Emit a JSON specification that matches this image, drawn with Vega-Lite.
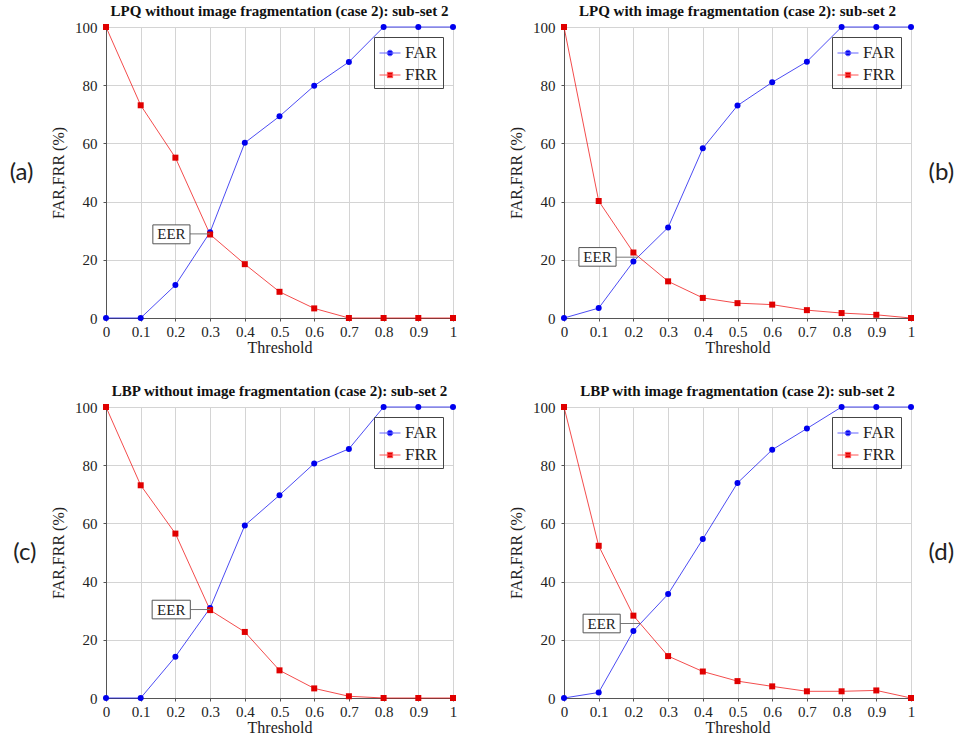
{
  "$schema": "https://vega.github.io/schema/vega-lite/v6.json",
  "padding": {"left": 9, "top": 4, "right": 0, "bottom": 0},
  "background": "white",
  "config": {
    "view": {"stroke": null},
    "axis": {"labelFont": "Liberation Serif", "labelFontSize": 15, "labelColor": "#222", "titleFont": "Liberation Serif", "titleFontSize": 16, "titleFontWeight": "normal", "titleColor": "#222", "gridColor": "#d4d4d4", "domainColor": "#555", "tickColor": "#555", "labelOverlap": false},
    "title": {"font": "Liberation Serif", "fontSize": 15, "fontWeight": "bold", "color": "#111", "offset": 1, "anchor": "middle"},
    "legend": {"labelFont": "Liberation Serif", "labelFontSize": 17, "labelColor": "#222"}
  },
  "datasets": {
    "a": [
      {"t": 0, "v": 0, "s": "FAR"}, {"t": 0.1, "v": 0, "s": "FAR"}, {"t": 0.2, "v": 11.3, "s": "FAR"}, {"t": 0.3, "v": 29.5, "s": "FAR"}, {"t": 0.4, "v": 60.2, "s": "FAR"}, {"t": 0.5, "v": 69.3, "s": "FAR"}, {"t": 0.6, "v": 79.8, "s": "FAR"}, {"t": 0.7, "v": 88.0, "s": "FAR"}, {"t": 0.8, "v": 100, "s": "FAR"}, {"t": 0.9, "v": 100, "s": "FAR"}, {"t": 1, "v": 100, "s": "FAR"},
      {"t": 0, "v": 100, "s": "FRR"}, {"t": 0.1, "v": 73.1, "s": "FRR"}, {"t": 0.2, "v": 55.1, "s": "FRR"}, {"t": 0.3, "v": 28.7, "s": "FRR"}, {"t": 0.4, "v": 18.5, "s": "FRR"}, {"t": 0.5, "v": 9.0, "s": "FRR"}, {"t": 0.6, "v": 3.3, "s": "FRR"}, {"t": 0.7, "v": 0, "s": "FRR"}, {"t": 0.8, "v": 0, "s": "FRR"}, {"t": 0.9, "v": 0, "s": "FRR"}, {"t": 1, "v": 0, "s": "FRR"}
    ],
    "b": [
      {"t": 0, "v": 0, "s": "FAR"}, {"t": 0.1, "v": 3.4, "s": "FAR"}, {"t": 0.2, "v": 19.4, "s": "FAR"}, {"t": 0.3, "v": 31.1, "s": "FAR"}, {"t": 0.4, "v": 58.3, "s": "FAR"}, {"t": 0.5, "v": 73.0, "s": "FAR"}, {"t": 0.6, "v": 81.0, "s": "FAR"}, {"t": 0.7, "v": 88.1, "s": "FAR"}, {"t": 0.8, "v": 100, "s": "FAR"}, {"t": 0.9, "v": 100, "s": "FAR"}, {"t": 1, "v": 100, "s": "FAR"},
      {"t": 0, "v": 100, "s": "FRR"}, {"t": 0.1, "v": 40.2, "s": "FRR"}, {"t": 0.2, "v": 22.5, "s": "FRR"}, {"t": 0.3, "v": 12.6, "s": "FRR"}, {"t": 0.4, "v": 6.9, "s": "FRR"}, {"t": 0.5, "v": 5.1, "s": "FRR"}, {"t": 0.6, "v": 4.6, "s": "FRR"}, {"t": 0.7, "v": 2.7, "s": "FRR"}, {"t": 0.8, "v": 1.7, "s": "FRR"}, {"t": 0.9, "v": 1.1, "s": "FRR"}, {"t": 1, "v": 0, "s": "FRR"}
    ],
    "c": [
      {"t": 0, "v": 0, "s": "FAR"}, {"t": 0.1, "v": 0, "s": "FAR"}, {"t": 0.2, "v": 14.2, "s": "FAR"}, {"t": 0.3, "v": 30.9, "s": "FAR"}, {"t": 0.4, "v": 59.3, "s": "FAR"}, {"t": 0.5, "v": 69.7, "s": "FAR"}, {"t": 0.6, "v": 80.6, "s": "FAR"}, {"t": 0.7, "v": 85.6, "s": "FAR"}, {"t": 0.8, "v": 100, "s": "FAR"}, {"t": 0.9, "v": 100, "s": "FAR"}, {"t": 1, "v": 100, "s": "FAR"},
      {"t": 0, "v": 100, "s": "FRR"}, {"t": 0.1, "v": 73.1, "s": "FRR"}, {"t": 0.2, "v": 56.5, "s": "FRR"}, {"t": 0.3, "v": 30.2, "s": "FRR"}, {"t": 0.4, "v": 22.7, "s": "FRR"}, {"t": 0.5, "v": 9.5, "s": "FRR"}, {"t": 0.6, "v": 3.3, "s": "FRR"}, {"t": 0.7, "v": 0.6, "s": "FRR"}, {"t": 0.8, "v": 0, "s": "FRR"}, {"t": 0.9, "v": 0, "s": "FRR"}, {"t": 1, "v": 0, "s": "FRR"}
    ],
    "d": [
      {"t": 0, "v": 0, "s": "FAR"}, {"t": 0.1, "v": 1.9, "s": "FAR"}, {"t": 0.2, "v": 23.0, "s": "FAR"}, {"t": 0.3, "v": 35.7, "s": "FAR"}, {"t": 0.4, "v": 54.6, "s": "FAR"}, {"t": 0.5, "v": 73.9, "s": "FAR"}, {"t": 0.6, "v": 85.3, "s": "FAR"}, {"t": 0.7, "v": 92.6, "s": "FAR"}, {"t": 0.8, "v": 100, "s": "FAR"}, {"t": 0.9, "v": 100, "s": "FAR"}, {"t": 1, "v": 100, "s": "FAR"},
      {"t": 0, "v": 100, "s": "FRR"}, {"t": 0.1, "v": 52.3, "s": "FRR"}, {"t": 0.2, "v": 28.3, "s": "FRR"}, {"t": 0.3, "v": 14.4, "s": "FRR"}, {"t": 0.4, "v": 9.1, "s": "FRR"}, {"t": 0.5, "v": 5.8, "s": "FRR"}, {"t": 0.6, "v": 4.0, "s": "FRR"}, {"t": 0.7, "v": 2.3, "s": "FRR"}, {"t": 0.8, "v": 2.3, "s": "FRR"}, {"t": 0.9, "v": 2.6, "s": "FRR"}, {"t": 1, "v": 0, "s": "FRR"}
    ],
    "eer_a": [{"x1": 0.135, "x2": 0.242, "y1": 25.5, "y2": 32.0, "xm": 0.1885, "ym": 28.9, "xe": 0.3, "label": "EER"}],
    "eer_b": [{"x1": 0.043, "x2": 0.150, "y1": 17.8, "y2": 24.2, "xm": 0.0965, "ym": 20.9, "xe": 0.213, "label": "EER"}],
    "eer_c": [{"x1": 0.133, "x2": 0.243, "y1": 27.2, "y2": 33.6, "xm": 0.188, "ym": 30.4, "xe": 0.3, "label": "EER"}],
    "eer_d": [{"x1": 0.055, "x2": 0.162, "y1": 22.4, "y2": 28.8, "xm": 0.1085, "ym": 25.6, "xe": 0.22, "label": "EER"}]
  },
  "columns": 2,
  "spacing": {"row": 89, "column": 111},
  "bounds": "flush",
  "resolve": {"scale": {"color": "independent", "shape": "independent", "stroke": "independent"}, "legend": {"color": "independent", "shape": "independent", "stroke": "independent"}},
  "concat": [
    {
      "title": {"text": "LPQ without image fragmentation (case 2): sub-set 2"},
      "width": 347, "height": 291,
      "resolve": {"scale": {"y": "independent"}},
      "layer": [
        {
          "data": {"name": "a"},
          "layer": [
            {"transform": [{"filter": "datum.s === 'FAR'"}],
             "mark": {"type": "line", "strokeWidth": 1, "color": "#0000ee", "opacity": 0.7},
             "encoding": {
               "x": {"field": "t", "type": "quantitative", "scale": {"domain": [0, 1], "nice": false}, "axis": {"title": "Threshold", "values": [0,0.1,0.2,0.3,0.4,0.5,0.6,0.7,0.8,0.9,1], "format": ".1~f", "labelPadding": 3, "tickSize": 3, "titlePadding": 0, "labelFlush": false, "labelOverlap": false, "labelFont": "Liberation Serif", "labelFontSize": 15, "titleFont": "Liberation Serif", "titleFontSize": 16}},
               "y": {"field": "v", "type": "quantitative", "scale": {"domain": [0, 100], "nice": false}, "axis": {"title": "FAR,FRR (%)", "values": [0,20,40,60,80,100], "tickSize": 3, "labelPadding": 6, "titlePadding": 8, "labelFont": "Liberation Serif", "labelFontSize": 15, "titleFont": "Liberation Serif", "titleFontSize": 16}}
             }},
            {"transform": [{"filter": "datum.s === 'FRR'"}],
             "mark": {"type": "line", "strokeWidth": 1, "color": "#ee0000", "opacity": 0.7},
             "encoding": {
               "x": {"field": "t", "type": "quantitative", "axis": {"title": "Threshold", "values": [0,0.1,0.2,0.3,0.4,0.5,0.6,0.7,0.8,0.9,1], "format": ".1~f", "labelPadding": 3, "tickSize": 3, "titlePadding": 0, "labelFlush": false, "labelOverlap": false, "labelFont": "Liberation Serif", "labelFontSize": 15, "titleFont": "Liberation Serif", "titleFontSize": 16}},
               "y": {"field": "v", "type": "quantitative", "axis": {"title": "FAR,FRR (%)", "values": [0,20,40,60,80,100], "tickSize": 3, "labelPadding": 6, "titlePadding": 8, "labelFont": "Liberation Serif", "labelFontSize": 15, "titleFont": "Liberation Serif", "titleFontSize": 16}}}},
            {"transform": [{"filter": "datum.s === 'FAR'"}],
             "mark": {"type": "point", "filled": true, "opacity": 1, "shape": "circle", "size": 36, "color": "#0000ee"},
             "encoding": {
               "x": {"field": "t", "type": "quantitative", "axis": {"title": "Threshold", "values": [0,0.1,0.2,0.3,0.4,0.5,0.6,0.7,0.8,0.9,1], "format": ".1~f", "labelPadding": 3, "tickSize": 3, "titlePadding": 0, "labelFlush": false, "labelOverlap": false, "labelFont": "Liberation Serif", "labelFontSize": 15, "titleFont": "Liberation Serif", "titleFontSize": 16}},
               "y": {"field": "v", "type": "quantitative", "axis": {"title": "FAR,FRR (%)", "values": [0,20,40,60,80,100], "tickSize": 3, "labelPadding": 6, "titlePadding": 8, "labelFont": "Liberation Serif", "labelFontSize": 15, "titleFont": "Liberation Serif", "titleFontSize": 16}}}},
            {"transform": [{"filter": "datum.s === 'FRR'"}],
             "mark": {"type": "point", "filled": true, "opacity": 1, "shape": "square", "size": 36, "color": "#e00000"},
             "encoding": {
               "x": {"field": "t", "type": "quantitative", "axis": {"title": "Threshold", "values": [0,0.1,0.2,0.3,0.4,0.5,0.6,0.7,0.8,0.9,1], "format": ".1~f", "labelPadding": 3, "tickSize": 3, "titlePadding": 0, "labelFlush": false, "labelOverlap": false, "labelFont": "Liberation Serif", "labelFontSize": 15, "titleFont": "Liberation Serif", "titleFontSize": 16}},
               "y": {"field": "v", "type": "quantitative", "axis": {"title": "FAR,FRR (%)", "values": [0,20,40,60,80,100], "tickSize": 3, "labelPadding": 6, "titlePadding": 8, "labelFont": "Liberation Serif", "labelFontSize": 15, "titleFont": "Liberation Serif", "titleFontSize": 16}}}},
            {"transform": [{"filter": "datum.t > 5"}],
             "mark": {"type": "point", "filled": true, "opacity": 1, "strokeWidth": 1},
             "encoding": {
               "x": {"field": "t", "type": "quantitative", "axis": {"title": "Threshold", "values": [0,0.1,0.2,0.3,0.4,0.5,0.6,0.7,0.8,0.9,1], "format": ".1~f", "labelPadding": 3, "tickSize": 3, "titlePadding": 0, "labelFlush": false, "labelOverlap": false, "labelFont": "Liberation Serif", "labelFontSize": 15, "titleFont": "Liberation Serif", "titleFontSize": 16}},
               "y": {"field": "v", "type": "quantitative", "axis": {"title": "FAR,FRR (%)", "values": [0,20,40,60,80,100], "tickSize": 3, "labelPadding": 6, "titlePadding": 8, "labelFont": "Liberation Serif", "labelFontSize": 15, "titleFont": "Liberation Serif", "titleFontSize": 16}},
               "color": {"field": "s", "type": "nominal", "scale": {"domain": ["FAR", "FRR"], "range": ["#0000ee", "#e00000"]}, "legend": {"title": null, "orient": "top-right", "offset": 10, "strokeColor": "#444", "padding": 5, "rowPadding": 3, "symbolSize": 441, "labelOffset": 4, "symbolOpacity": 1, "symbolStrokeWidth": 1}},
               "shape": {"field": "s", "type": "nominal", "scale": {"domain": ["FAR", "FRR"], "range": ["M-1,0L1,0M-0.27,0A0.27,0.27,0,1,0,0.27,0A0.27,0.27,0,1,0,-0.27,0Z", "M-1,0L1,0M-0.25,-0.25H0.25V0.25H-0.25Z"]}, "legend": {"title": null}},
               "stroke": {"field": "s", "type": "nominal", "scale": {"domain": ["FAR", "FRR"], "range": ["#6666ff", "#ff5555"]}, "legend": {"title": null}}}}
          ]
        },
        {
          "data": {"name": "eer_a"},
          "layer": [
            {"mark": {"type": "rule", "color": "#777", "strokeWidth": 1},
             "encoding": {"x": {"field": "x2", "type": "quantitative", "axis": {"title": "Threshold", "values": [0,0.1,0.2,0.3,0.4,0.5,0.6,0.7,0.8,0.9,1], "format": ".1~f", "labelPadding": 3, "tickSize": 3, "titlePadding": 0, "labelFlush": false, "labelOverlap": false, "labelFont": "Liberation Serif", "labelFontSize": 15, "titleFont": "Liberation Serif", "titleFontSize": 16}}, "x2": {"field": "xe"}, "y": {"field": "ym", "type": "quantitative", "scale": {"domain": [0, 100], "nice": false},
               "axis": {"title": "(a)", "orient": "left", "labels": false, "ticks": false, "domain": false, "grid": false, "titleAngle": 0, "titleAlign": "right", "titleBaseline": "middle", "titleFont": "Lato", "titleFontSize": 24, "titlePadding": 73}}}},
            {"mark": {"type": "rect", "fill": "white", "stroke": "#555", "strokeWidth": 1},
             "encoding": {"x": {"field": "x1", "type": "quantitative", "axis": {"title": "Threshold", "values": [0,0.1,0.2,0.3,0.4,0.5,0.6,0.7,0.8,0.9,1], "format": ".1~f", "labelPadding": 3, "tickSize": 3, "titlePadding": 0, "labelFlush": false, "labelOverlap": false, "labelFont": "Liberation Serif", "labelFontSize": 15, "titleFont": "Liberation Serif", "titleFontSize": 16}}, "x2": {"field": "x2"}, "y": {"field": "y1", "type": "quantitative"}, "y2": {"field": "y2"}}},
            {"mark": {"type": "text", "font": "Liberation Serif", "fontSize": 15, "color": "#222"},
             "encoding": {"x": {"field": "xm", "type": "quantitative", "axis": {"title": "Threshold", "values": [0,0.1,0.2,0.3,0.4,0.5,0.6,0.7,0.8,0.9,1], "format": ".1~f", "labelPadding": 3, "tickSize": 3, "titlePadding": 0, "labelFlush": false, "labelOverlap": false, "labelFont": "Liberation Serif", "labelFontSize": 15, "titleFont": "Liberation Serif", "titleFontSize": 16}}, "y": {"field": "ym", "type": "quantitative"}, "text": {"field": "label"}}}
          ]
        }
      ]
    },
    {
      "title": {"text": "LPQ with image fragmentation (case 2): sub-set 2"},
      "width": 347, "height": 291,
      "resolve": {"scale": {"y": "independent"}},
      "layer": [
        {
          "data": {"name": "b"},
          "layer": [
            {"transform": [{"filter": "datum.s === 'FAR'"}],
             "mark": {"type": "line", "strokeWidth": 1, "color": "#0000ee", "opacity": 0.7},
             "encoding": {
               "x": {"field": "t", "type": "quantitative", "scale": {"domain": [0, 1], "nice": false}, "axis": {"title": "Threshold", "values": [0,0.1,0.2,0.3,0.4,0.5,0.6,0.7,0.8,0.9,1], "format": ".1~f", "labelPadding": 3, "tickSize": 3, "titlePadding": 0, "labelFlush": false, "labelOverlap": false, "labelFont": "Liberation Serif", "labelFontSize": 15, "titleFont": "Liberation Serif", "titleFontSize": 16}},
               "y": {"field": "v", "type": "quantitative", "scale": {"domain": [0, 100], "nice": false}, "axis": {"title": "FAR,FRR (%)", "values": [0,20,40,60,80,100], "tickSize": 3, "labelPadding": 6, "titlePadding": 8, "labelFont": "Liberation Serif", "labelFontSize": 15, "titleFont": "Liberation Serif", "titleFontSize": 16}}
             }},
            {"transform": [{"filter": "datum.s === 'FRR'"}],
             "mark": {"type": "line", "strokeWidth": 1, "color": "#ee0000", "opacity": 0.7},
             "encoding": {
               "x": {"field": "t", "type": "quantitative", "axis": {"title": "Threshold", "values": [0,0.1,0.2,0.3,0.4,0.5,0.6,0.7,0.8,0.9,1], "format": ".1~f", "labelPadding": 3, "tickSize": 3, "titlePadding": 0, "labelFlush": false, "labelOverlap": false, "labelFont": "Liberation Serif", "labelFontSize": 15, "titleFont": "Liberation Serif", "titleFontSize": 16}},
               "y": {"field": "v", "type": "quantitative", "axis": {"title": "FAR,FRR (%)", "values": [0,20,40,60,80,100], "tickSize": 3, "labelPadding": 6, "titlePadding": 8, "labelFont": "Liberation Serif", "labelFontSize": 15, "titleFont": "Liberation Serif", "titleFontSize": 16}}}},
            {"transform": [{"filter": "datum.s === 'FAR'"}],
             "mark": {"type": "point", "filled": true, "opacity": 1, "shape": "circle", "size": 36, "color": "#0000ee"},
             "encoding": {
               "x": {"field": "t", "type": "quantitative", "axis": {"title": "Threshold", "values": [0,0.1,0.2,0.3,0.4,0.5,0.6,0.7,0.8,0.9,1], "format": ".1~f", "labelPadding": 3, "tickSize": 3, "titlePadding": 0, "labelFlush": false, "labelOverlap": false, "labelFont": "Liberation Serif", "labelFontSize": 15, "titleFont": "Liberation Serif", "titleFontSize": 16}},
               "y": {"field": "v", "type": "quantitative", "axis": {"title": "FAR,FRR (%)", "values": [0,20,40,60,80,100], "tickSize": 3, "labelPadding": 6, "titlePadding": 8, "labelFont": "Liberation Serif", "labelFontSize": 15, "titleFont": "Liberation Serif", "titleFontSize": 16}}}},
            {"transform": [{"filter": "datum.s === 'FRR'"}],
             "mark": {"type": "point", "filled": true, "opacity": 1, "shape": "square", "size": 36, "color": "#e00000"},
             "encoding": {
               "x": {"field": "t", "type": "quantitative", "axis": {"title": "Threshold", "values": [0,0.1,0.2,0.3,0.4,0.5,0.6,0.7,0.8,0.9,1], "format": ".1~f", "labelPadding": 3, "tickSize": 3, "titlePadding": 0, "labelFlush": false, "labelOverlap": false, "labelFont": "Liberation Serif", "labelFontSize": 15, "titleFont": "Liberation Serif", "titleFontSize": 16}},
               "y": {"field": "v", "type": "quantitative", "axis": {"title": "FAR,FRR (%)", "values": [0,20,40,60,80,100], "tickSize": 3, "labelPadding": 6, "titlePadding": 8, "labelFont": "Liberation Serif", "labelFontSize": 15, "titleFont": "Liberation Serif", "titleFontSize": 16}}}},
            {"transform": [{"filter": "datum.t > 5"}],
             "mark": {"type": "point", "filled": true, "opacity": 1, "strokeWidth": 1},
             "encoding": {
               "x": {"field": "t", "type": "quantitative", "axis": {"title": "Threshold", "values": [0,0.1,0.2,0.3,0.4,0.5,0.6,0.7,0.8,0.9,1], "format": ".1~f", "labelPadding": 3, "tickSize": 3, "titlePadding": 0, "labelFlush": false, "labelOverlap": false, "labelFont": "Liberation Serif", "labelFontSize": 15, "titleFont": "Liberation Serif", "titleFontSize": 16}},
               "y": {"field": "v", "type": "quantitative", "axis": {"title": "FAR,FRR (%)", "values": [0,20,40,60,80,100], "tickSize": 3, "labelPadding": 6, "titlePadding": 8, "labelFont": "Liberation Serif", "labelFontSize": 15, "titleFont": "Liberation Serif", "titleFontSize": 16}},
               "color": {"field": "s", "type": "nominal", "scale": {"domain": ["FAR", "FRR"], "range": ["#0000ee", "#e00000"]}, "legend": {"title": null, "orient": "top-right", "offset": 10, "strokeColor": "#444", "padding": 5, "rowPadding": 3, "symbolSize": 441, "labelOffset": 4, "symbolOpacity": 1, "symbolStrokeWidth": 1}},
               "shape": {"field": "s", "type": "nominal", "scale": {"domain": ["FAR", "FRR"], "range": ["M-1,0L1,0M-0.27,0A0.27,0.27,0,1,0,0.27,0A0.27,0.27,0,1,0,-0.27,0Z", "M-1,0L1,0M-0.25,-0.25H0.25V0.25H-0.25Z"]}, "legend": {"title": null}},
               "stroke": {"field": "s", "type": "nominal", "scale": {"domain": ["FAR", "FRR"], "range": ["#6666ff", "#ff5555"]}, "legend": {"title": null}}}}
          ]
        },
        {
          "data": {"name": "eer_b"},
          "layer": [
            {"mark": {"type": "rule", "color": "#777", "strokeWidth": 1},
             "encoding": {"x": {"field": "x2", "type": "quantitative", "axis": {"title": "Threshold", "values": [0,0.1,0.2,0.3,0.4,0.5,0.6,0.7,0.8,0.9,1], "format": ".1~f", "labelPadding": 3, "tickSize": 3, "titlePadding": 0, "labelFlush": false, "labelOverlap": false, "labelFont": "Liberation Serif", "labelFontSize": 15, "titleFont": "Liberation Serif", "titleFontSize": 16}}, "x2": {"field": "xe"}, "y": {"field": "ym", "type": "quantitative", "scale": {"domain": [0, 100], "nice": false},
               "axis": {"title": "(b)", "orient": "right", "labels": false, "ticks": false, "domain": false, "grid": false, "titleAngle": 0, "titleAlign": "left", "titleBaseline": "middle", "titleFont": "Lato", "titleFontSize": 24, "titlePadding": 17}}}},
            {"mark": {"type": "rect", "fill": "white", "stroke": "#555", "strokeWidth": 1},
             "encoding": {"x": {"field": "x1", "type": "quantitative", "axis": {"title": "Threshold", "values": [0,0.1,0.2,0.3,0.4,0.5,0.6,0.7,0.8,0.9,1], "format": ".1~f", "labelPadding": 3, "tickSize": 3, "titlePadding": 0, "labelFlush": false, "labelOverlap": false, "labelFont": "Liberation Serif", "labelFontSize": 15, "titleFont": "Liberation Serif", "titleFontSize": 16}}, "x2": {"field": "x2"}, "y": {"field": "y1", "type": "quantitative"}, "y2": {"field": "y2"}}},
            {"mark": {"type": "text", "font": "Liberation Serif", "fontSize": 15, "color": "#222"},
             "encoding": {"x": {"field": "xm", "type": "quantitative", "axis": {"title": "Threshold", "values": [0,0.1,0.2,0.3,0.4,0.5,0.6,0.7,0.8,0.9,1], "format": ".1~f", "labelPadding": 3, "tickSize": 3, "titlePadding": 0, "labelFlush": false, "labelOverlap": false, "labelFont": "Liberation Serif", "labelFontSize": 15, "titleFont": "Liberation Serif", "titleFontSize": 16}}, "y": {"field": "ym", "type": "quantitative"}, "text": {"field": "label"}}}
          ]
        }
      ]
    },
    {
      "title": {"text": "LBP without image fragmentation (case 2): sub-set 2"},
      "width": 347, "height": 291,
      "resolve": {"scale": {"y": "independent"}},
      "layer": [
        {
          "data": {"name": "c"},
          "layer": [
            {"transform": [{"filter": "datum.s === 'FAR'"}],
             "mark": {"type": "line", "strokeWidth": 1, "color": "#0000ee", "opacity": 0.7},
             "encoding": {
               "x": {"field": "t", "type": "quantitative", "scale": {"domain": [0, 1], "nice": false}, "axis": {"title": "Threshold", "values": [0,0.1,0.2,0.3,0.4,0.5,0.6,0.7,0.8,0.9,1], "format": ".1~f", "labelPadding": 3, "tickSize": 3, "titlePadding": 0, "labelFlush": false, "labelOverlap": false, "labelFont": "Liberation Serif", "labelFontSize": 15, "titleFont": "Liberation Serif", "titleFontSize": 16}},
               "y": {"field": "v", "type": "quantitative", "scale": {"domain": [0, 100], "nice": false}, "axis": {"title": "FAR,FRR (%)", "values": [0,20,40,60,80,100], "tickSize": 3, "labelPadding": 6, "titlePadding": 8, "labelFont": "Liberation Serif", "labelFontSize": 15, "titleFont": "Liberation Serif", "titleFontSize": 16}}
             }},
            {"transform": [{"filter": "datum.s === 'FRR'"}],
             "mark": {"type": "line", "strokeWidth": 1, "color": "#ee0000", "opacity": 0.7},
             "encoding": {
               "x": {"field": "t", "type": "quantitative", "axis": {"title": "Threshold", "values": [0,0.1,0.2,0.3,0.4,0.5,0.6,0.7,0.8,0.9,1], "format": ".1~f", "labelPadding": 3, "tickSize": 3, "titlePadding": 0, "labelFlush": false, "labelOverlap": false, "labelFont": "Liberation Serif", "labelFontSize": 15, "titleFont": "Liberation Serif", "titleFontSize": 16}},
               "y": {"field": "v", "type": "quantitative", "axis": {"title": "FAR,FRR (%)", "values": [0,20,40,60,80,100], "tickSize": 3, "labelPadding": 6, "titlePadding": 8, "labelFont": "Liberation Serif", "labelFontSize": 15, "titleFont": "Liberation Serif", "titleFontSize": 16}}}},
            {"transform": [{"filter": "datum.s === 'FAR'"}],
             "mark": {"type": "point", "filled": true, "opacity": 1, "shape": "circle", "size": 36, "color": "#0000ee"},
             "encoding": {
               "x": {"field": "t", "type": "quantitative", "axis": {"title": "Threshold", "values": [0,0.1,0.2,0.3,0.4,0.5,0.6,0.7,0.8,0.9,1], "format": ".1~f", "labelPadding": 3, "tickSize": 3, "titlePadding": 0, "labelFlush": false, "labelOverlap": false, "labelFont": "Liberation Serif", "labelFontSize": 15, "titleFont": "Liberation Serif", "titleFontSize": 16}},
               "y": {"field": "v", "type": "quantitative", "axis": {"title": "FAR,FRR (%)", "values": [0,20,40,60,80,100], "tickSize": 3, "labelPadding": 6, "titlePadding": 8, "labelFont": "Liberation Serif", "labelFontSize": 15, "titleFont": "Liberation Serif", "titleFontSize": 16}}}},
            {"transform": [{"filter": "datum.s === 'FRR'"}],
             "mark": {"type": "point", "filled": true, "opacity": 1, "shape": "square", "size": 36, "color": "#e00000"},
             "encoding": {
               "x": {"field": "t", "type": "quantitative", "axis": {"title": "Threshold", "values": [0,0.1,0.2,0.3,0.4,0.5,0.6,0.7,0.8,0.9,1], "format": ".1~f", "labelPadding": 3, "tickSize": 3, "titlePadding": 0, "labelFlush": false, "labelOverlap": false, "labelFont": "Liberation Serif", "labelFontSize": 15, "titleFont": "Liberation Serif", "titleFontSize": 16}},
               "y": {"field": "v", "type": "quantitative", "axis": {"title": "FAR,FRR (%)", "values": [0,20,40,60,80,100], "tickSize": 3, "labelPadding": 6, "titlePadding": 8, "labelFont": "Liberation Serif", "labelFontSize": 15, "titleFont": "Liberation Serif", "titleFontSize": 16}}}},
            {"transform": [{"filter": "datum.t > 5"}],
             "mark": {"type": "point", "filled": true, "opacity": 1, "strokeWidth": 1},
             "encoding": {
               "x": {"field": "t", "type": "quantitative", "axis": {"title": "Threshold", "values": [0,0.1,0.2,0.3,0.4,0.5,0.6,0.7,0.8,0.9,1], "format": ".1~f", "labelPadding": 3, "tickSize": 3, "titlePadding": 0, "labelFlush": false, "labelOverlap": false, "labelFont": "Liberation Serif", "labelFontSize": 15, "titleFont": "Liberation Serif", "titleFontSize": 16}},
               "y": {"field": "v", "type": "quantitative", "axis": {"title": "FAR,FRR (%)", "values": [0,20,40,60,80,100], "tickSize": 3, "labelPadding": 6, "titlePadding": 8, "labelFont": "Liberation Serif", "labelFontSize": 15, "titleFont": "Liberation Serif", "titleFontSize": 16}},
               "color": {"field": "s", "type": "nominal", "scale": {"domain": ["FAR", "FRR"], "range": ["#0000ee", "#e00000"]}, "legend": {"title": null, "orient": "top-right", "offset": 10, "strokeColor": "#444", "padding": 5, "rowPadding": 3, "symbolSize": 441, "labelOffset": 4, "symbolOpacity": 1, "symbolStrokeWidth": 1}},
               "shape": {"field": "s", "type": "nominal", "scale": {"domain": ["FAR", "FRR"], "range": ["M-1,0L1,0M-0.27,0A0.27,0.27,0,1,0,0.27,0A0.27,0.27,0,1,0,-0.27,0Z", "M-1,0L1,0M-0.25,-0.25H0.25V0.25H-0.25Z"]}, "legend": {"title": null}},
               "stroke": {"field": "s", "type": "nominal", "scale": {"domain": ["FAR", "FRR"], "range": ["#6666ff", "#ff5555"]}, "legend": {"title": null}}}}
          ]
        },
        {
          "data": {"name": "eer_c"},
          "layer": [
            {"mark": {"type": "rule", "color": "#777", "strokeWidth": 1},
             "encoding": {"x": {"field": "x2", "type": "quantitative", "axis": {"title": "Threshold", "values": [0,0.1,0.2,0.3,0.4,0.5,0.6,0.7,0.8,0.9,1], "format": ".1~f", "labelPadding": 3, "tickSize": 3, "titlePadding": 0, "labelFlush": false, "labelOverlap": false, "labelFont": "Liberation Serif", "labelFontSize": 15, "titleFont": "Liberation Serif", "titleFontSize": 16}}, "x2": {"field": "xe"}, "y": {"field": "ym", "type": "quantitative", "scale": {"domain": [0, 100], "nice": false},
               "axis": {"title": "(c)", "orient": "left", "labels": false, "ticks": false, "domain": false, "grid": false, "titleAngle": 0, "titleAlign": "right", "titleBaseline": "middle", "titleFont": "Lato", "titleFontSize": 24, "titlePadding": 70}}}},
            {"mark": {"type": "rect", "fill": "white", "stroke": "#555", "strokeWidth": 1},
             "encoding": {"x": {"field": "x1", "type": "quantitative", "axis": {"title": "Threshold", "values": [0,0.1,0.2,0.3,0.4,0.5,0.6,0.7,0.8,0.9,1], "format": ".1~f", "labelPadding": 3, "tickSize": 3, "titlePadding": 0, "labelFlush": false, "labelOverlap": false, "labelFont": "Liberation Serif", "labelFontSize": 15, "titleFont": "Liberation Serif", "titleFontSize": 16}}, "x2": {"field": "x2"}, "y": {"field": "y1", "type": "quantitative"}, "y2": {"field": "y2"}}},
            {"mark": {"type": "text", "font": "Liberation Serif", "fontSize": 15, "color": "#222"},
             "encoding": {"x": {"field": "xm", "type": "quantitative", "axis": {"title": "Threshold", "values": [0,0.1,0.2,0.3,0.4,0.5,0.6,0.7,0.8,0.9,1], "format": ".1~f", "labelPadding": 3, "tickSize": 3, "titlePadding": 0, "labelFlush": false, "labelOverlap": false, "labelFont": "Liberation Serif", "labelFontSize": 15, "titleFont": "Liberation Serif", "titleFontSize": 16}}, "y": {"field": "ym", "type": "quantitative"}, "text": {"field": "label"}}}
          ]
        }
      ]
    },
    {
      "title": {"text": "LBP with image fragmentation (case 2): sub-set 2"},
      "width": 347, "height": 291,
      "resolve": {"scale": {"y": "independent"}},
      "layer": [
        {
          "data": {"name": "d"},
          "layer": [
            {"transform": [{"filter": "datum.s === 'FAR'"}],
             "mark": {"type": "line", "strokeWidth": 1, "color": "#0000ee", "opacity": 0.7},
             "encoding": {
               "x": {"field": "t", "type": "quantitative", "scale": {"domain": [0, 1], "nice": false}, "axis": {"title": "Threshold", "values": [0,0.1,0.2,0.3,0.4,0.5,0.6,0.7,0.8,0.9,1], "format": ".1~f", "labelPadding": 3, "tickSize": 3, "titlePadding": 0, "labelFlush": false, "labelOverlap": false, "labelFont": "Liberation Serif", "labelFontSize": 15, "titleFont": "Liberation Serif", "titleFontSize": 16}},
               "y": {"field": "v", "type": "quantitative", "scale": {"domain": [0, 100], "nice": false}, "axis": {"title": "FAR,FRR (%)", "values": [0,20,40,60,80,100], "tickSize": 3, "labelPadding": 6, "titlePadding": 8, "labelFont": "Liberation Serif", "labelFontSize": 15, "titleFont": "Liberation Serif", "titleFontSize": 16}}
             }},
            {"transform": [{"filter": "datum.s === 'FRR'"}],
             "mark": {"type": "line", "strokeWidth": 1, "color": "#ee0000", "opacity": 0.7},
             "encoding": {
               "x": {"field": "t", "type": "quantitative", "axis": {"title": "Threshold", "values": [0,0.1,0.2,0.3,0.4,0.5,0.6,0.7,0.8,0.9,1], "format": ".1~f", "labelPadding": 3, "tickSize": 3, "titlePadding": 0, "labelFlush": false, "labelOverlap": false, "labelFont": "Liberation Serif", "labelFontSize": 15, "titleFont": "Liberation Serif", "titleFontSize": 16}},
               "y": {"field": "v", "type": "quantitative", "axis": {"title": "FAR,FRR (%)", "values": [0,20,40,60,80,100], "tickSize": 3, "labelPadding": 6, "titlePadding": 8, "labelFont": "Liberation Serif", "labelFontSize": 15, "titleFont": "Liberation Serif", "titleFontSize": 16}}}},
            {"transform": [{"filter": "datum.s === 'FAR'"}],
             "mark": {"type": "point", "filled": true, "opacity": 1, "shape": "circle", "size": 36, "color": "#0000ee"},
             "encoding": {
               "x": {"field": "t", "type": "quantitative", "axis": {"title": "Threshold", "values": [0,0.1,0.2,0.3,0.4,0.5,0.6,0.7,0.8,0.9,1], "format": ".1~f", "labelPadding": 3, "tickSize": 3, "titlePadding": 0, "labelFlush": false, "labelOverlap": false, "labelFont": "Liberation Serif", "labelFontSize": 15, "titleFont": "Liberation Serif", "titleFontSize": 16}},
               "y": {"field": "v", "type": "quantitative", "axis": {"title": "FAR,FRR (%)", "values": [0,20,40,60,80,100], "tickSize": 3, "labelPadding": 6, "titlePadding": 8, "labelFont": "Liberation Serif", "labelFontSize": 15, "titleFont": "Liberation Serif", "titleFontSize": 16}}}},
            {"transform": [{"filter": "datum.s === 'FRR'"}],
             "mark": {"type": "point", "filled": true, "opacity": 1, "shape": "square", "size": 36, "color": "#e00000"},
             "encoding": {
               "x": {"field": "t", "type": "quantitative", "axis": {"title": "Threshold", "values": [0,0.1,0.2,0.3,0.4,0.5,0.6,0.7,0.8,0.9,1], "format": ".1~f", "labelPadding": 3, "tickSize": 3, "titlePadding": 0, "labelFlush": false, "labelOverlap": false, "labelFont": "Liberation Serif", "labelFontSize": 15, "titleFont": "Liberation Serif", "titleFontSize": 16}},
               "y": {"field": "v", "type": "quantitative", "axis": {"title": "FAR,FRR (%)", "values": [0,20,40,60,80,100], "tickSize": 3, "labelPadding": 6, "titlePadding": 8, "labelFont": "Liberation Serif", "labelFontSize": 15, "titleFont": "Liberation Serif", "titleFontSize": 16}}}},
            {"transform": [{"filter": "datum.t > 5"}],
             "mark": {"type": "point", "filled": true, "opacity": 1, "strokeWidth": 1},
             "encoding": {
               "x": {"field": "t", "type": "quantitative", "axis": {"title": "Threshold", "values": [0,0.1,0.2,0.3,0.4,0.5,0.6,0.7,0.8,0.9,1], "format": ".1~f", "labelPadding": 3, "tickSize": 3, "titlePadding": 0, "labelFlush": false, "labelOverlap": false, "labelFont": "Liberation Serif", "labelFontSize": 15, "titleFont": "Liberation Serif", "titleFontSize": 16}},
               "y": {"field": "v", "type": "quantitative", "axis": {"title": "FAR,FRR (%)", "values": [0,20,40,60,80,100], "tickSize": 3, "labelPadding": 6, "titlePadding": 8, "labelFont": "Liberation Serif", "labelFontSize": 15, "titleFont": "Liberation Serif", "titleFontSize": 16}},
               "color": {"field": "s", "type": "nominal", "scale": {"domain": ["FAR", "FRR"], "range": ["#0000ee", "#e00000"]}, "legend": {"title": null, "orient": "top-right", "offset": 10, "strokeColor": "#444", "padding": 5, "rowPadding": 3, "symbolSize": 441, "labelOffset": 4, "symbolOpacity": 1, "symbolStrokeWidth": 1}},
               "shape": {"field": "s", "type": "nominal", "scale": {"domain": ["FAR", "FRR"], "range": ["M-1,0L1,0M-0.27,0A0.27,0.27,0,1,0,0.27,0A0.27,0.27,0,1,0,-0.27,0Z", "M-1,0L1,0M-0.25,-0.25H0.25V0.25H-0.25Z"]}, "legend": {"title": null}},
               "stroke": {"field": "s", "type": "nominal", "scale": {"domain": ["FAR", "FRR"], "range": ["#6666ff", "#ff5555"]}, "legend": {"title": null}}}}
          ]
        },
        {
          "data": {"name": "eer_d"},
          "layer": [
            {"mark": {"type": "rule", "color": "#777", "strokeWidth": 1},
             "encoding": {"x": {"field": "x2", "type": "quantitative", "axis": {"title": "Threshold", "values": [0,0.1,0.2,0.3,0.4,0.5,0.6,0.7,0.8,0.9,1], "format": ".1~f", "labelPadding": 3, "tickSize": 3, "titlePadding": 0, "labelFlush": false, "labelOverlap": false, "labelFont": "Liberation Serif", "labelFontSize": 15, "titleFont": "Liberation Serif", "titleFontSize": 16}}, "x2": {"field": "xe"}, "y": {"field": "ym", "type": "quantitative", "scale": {"domain": [0, 100], "nice": false},
               "axis": {"title": "(d)", "orient": "right", "labels": false, "ticks": false, "domain": false, "grid": false, "titleAngle": 0, "titleAlign": "left", "titleBaseline": "middle", "titleFont": "Lato", "titleFontSize": 24, "titlePadding": 17}}}},
            {"mark": {"type": "rect", "fill": "white", "stroke": "#555", "strokeWidth": 1},
             "encoding": {"x": {"field": "x1", "type": "quantitative", "axis": {"title": "Threshold", "values": [0,0.1,0.2,0.3,0.4,0.5,0.6,0.7,0.8,0.9,1], "format": ".1~f", "labelPadding": 3, "tickSize": 3, "titlePadding": 0, "labelFlush": false, "labelOverlap": false, "labelFont": "Liberation Serif", "labelFontSize": 15, "titleFont": "Liberation Serif", "titleFontSize": 16}}, "x2": {"field": "x2"}, "y": {"field": "y1", "type": "quantitative"}, "y2": {"field": "y2"}}},
            {"mark": {"type": "text", "font": "Liberation Serif", "fontSize": 15, "color": "#222"},
             "encoding": {"x": {"field": "xm", "type": "quantitative", "axis": {"title": "Threshold", "values": [0,0.1,0.2,0.3,0.4,0.5,0.6,0.7,0.8,0.9,1], "format": ".1~f", "labelPadding": 3, "tickSize": 3, "titlePadding": 0, "labelFlush": false, "labelOverlap": false, "labelFont": "Liberation Serif", "labelFontSize": 15, "titleFont": "Liberation Serif", "titleFontSize": 16}}, "y": {"field": "ym", "type": "quantitative"}, "text": {"field": "label"}}}
          ]
        }
      ]
    }
  ]
}
